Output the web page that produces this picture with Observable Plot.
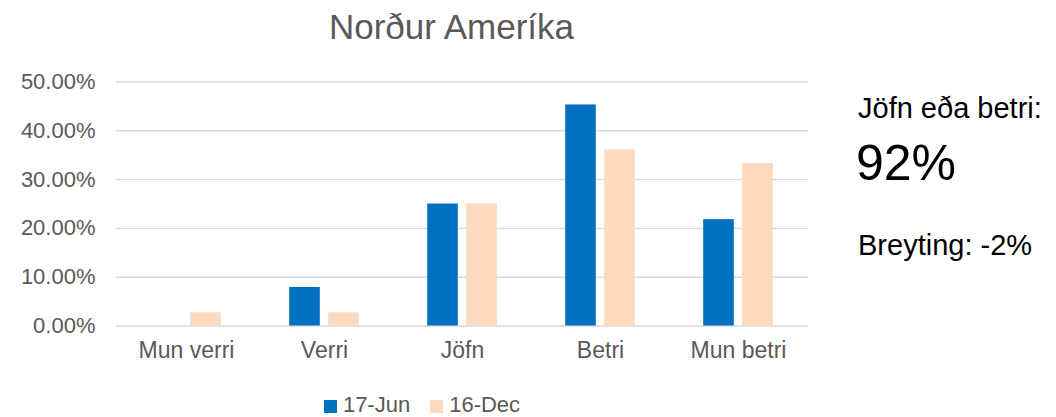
<!DOCTYPE html>
<html>
<head>
<meta charset="utf-8">
<script src="https://cdn.jsdelivr.net/npm/d3@7"></script>
<script src="https://cdn.jsdelivr.net/npm/@observablehq/plot@0.6"></script>
<style>
  html, body { margin: 0; padding: 0; background: #fff; }
  #wrap { position: relative; width: 1056px; height: 417px; overflow: hidden; font-family: "Liberation Sans", Arial, sans-serif; }
  #wrap svg { position: absolute; left: 0; top: 0; }
  .abs { position: absolute; white-space: nowrap; line-height: 1; }
  #title { left: 116px; width: 671px; top: 9px; text-align: center; font-size: 35px; color: #595959; }
  #legend { top: 394px; left: 0; width: 844px; height: 22px; text-align: center; font-size: 22px; color: #595959; }
  #legend span.sw { display: inline-block; width: 13px; height: 13px; margin-right: 6px; vertical-align: -1px; }
  #legend span.it { margin: 0 10px; }
  #side1 { left: 858px; top: 94px; font-size: 29px; color: #000; }
  #side2 { left: 856px; top: 138px; font-size: 50px; color: #000; }
  #side3 { left: 858px; top: 231px; font-size: 29px; color: #000; }
</style>
</head>
<body>
<div id="wrap"></div>
<script>
const categories = ["Mun verri", "Verri", "Jöfn", "Betri", "Mun betri"];
const series = ["17-Jun", "16-Dec"];
const jun17 = [0.0, 7.9, 25.0, 45.3, 21.8];
const dec16 = [2.7, 2.7, 25.0, 36.1, 33.3];
const yTicks = [0, 10, 20, 30, 40, 50];
const colors = ["#0070C0", "#FDD9BD"];
const titleText = "Norður Ameríka";
const sideLabel = "Jöfn eða betri:";
const sideValue = "92%";
const sideChange = "Breyting: -2%";

const rows = [];
categories.forEach((c, i) => {
  rows.push({category: c, series: series[0], value: jun17[i] / 100});
  rows.push({category: c, series: series[1], value: dec16[i] / 100});
});

const W = 1056, H = 417;
const mL = 116, mR = 248, mT = 81.5, mB = 91.5;
const band = (W - mL - mR) / categories.length;
const barW = 31, gap = 8;
const half = band / 2;

const fmt = d3.format(".2%");

const chart = Plot.plot({
  width: W,
  height: H,
  marginLeft: mL,
  marginRight: mR,
  marginTop: mT,
  marginBottom: mB,
  style: {fontFamily: "Liberation Sans, Arial, sans-serif", color: "#595959", background: "transparent", overflow: "visible"},
  x: {domain: categories, padding: 0},
  y: {domain: [0, 0.5], ticks: yTicks.map(d => d / 100)},
  marks: [
    Plot.ruleY(yTicks.map(d => d / 100), {stroke: "#d9d9d9", strokeWidth: 1.4}),
    Plot.barY(rows.filter(d => d.series === series[0]), {
      x: "category", y: "value", fill: colors[0],
      insetLeft: half - gap / 2 - barW, insetRight: half + gap / 2
    }),
    Plot.barY(rows.filter(d => d.series === series[1]), {
      x: "category", y: "value", fill: colors[1],
      insetLeft: half + gap / 2, insetRight: half - gap / 2 - barW
    }),
    Plot.axisY({ticks: yTicks.map(d => d / 100), tickFormat: fmt, tickSize: 0, tickPadding: 21, fontSize: 22, label: null}),
    Plot.axisX({tickSize: 0, tickPadding: 16, fontSize: 23, label: null})
  ]
});

const wrap = document.getElementById("wrap");
wrap.appendChild(chart);

function addDiv(id, html) {
  const d = document.createElement("div");
  d.id = id; d.className = "abs"; d.innerHTML = html;
  wrap.appendChild(d);
  return d;
}
addDiv("title", titleText);
addDiv("legend", series.map((s, i) =>
  `<span class="it"><span class="sw" style="background:${colors[i]}"></span>${s}</span>`).join(""));
addDiv("side1", sideLabel);
addDiv("side2", sideValue);
addDiv("side3", sideChange);
</script>
</body>
</html>
